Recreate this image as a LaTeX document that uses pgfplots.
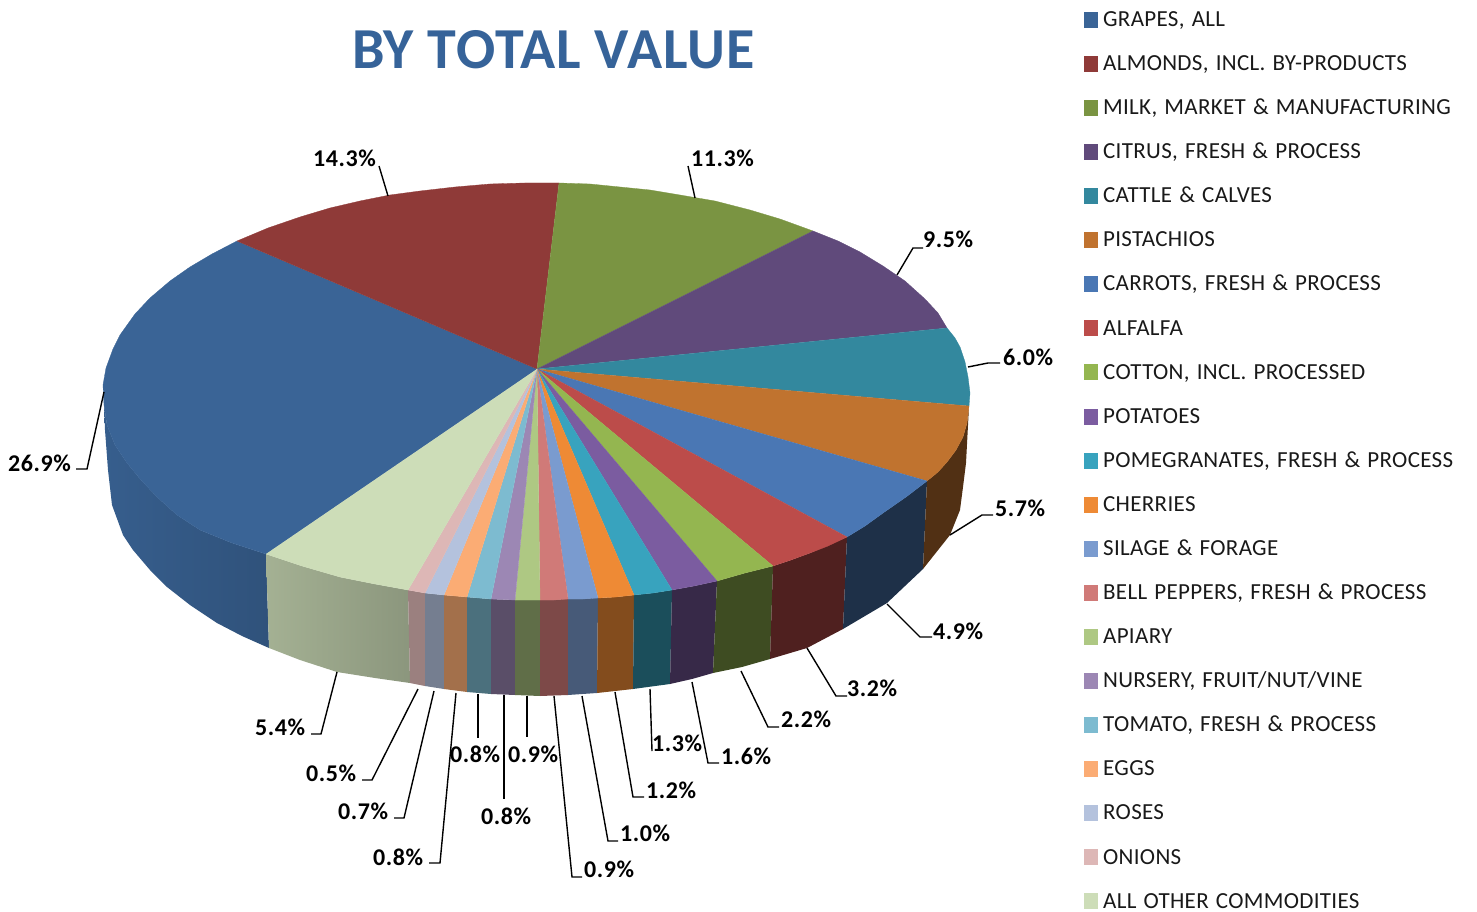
\documentclass[border=0pt]{standalone}
\usepackage{pgfplots}
\pgfplotsset{compat=1.18}
\usepackage{fontspec}
\setmainfont{Carlito}
\newfontface\legfont{Carlito}[LetterSpace=1.4,WordSpace=1.3]
\newfontface\lblfont{Carlito Bold}[LetterSpace=2.4]
\newfontface\ttlfont{Carlito Bold}[LetterSpace=1.7]

% top faces
\definecolor{grapes}{HTML}{3A6496}
\definecolor{almonds}{HTML}{8F3A38}
\definecolor{milk}{HTML}{7A9442}
\definecolor{citrus}{HTML}{604A7B}
\definecolor{cattle}{HTML}{33889E}
\definecolor{pist}{HTML}{C0732F}
\definecolor{carrots}{HTML}{4A77B4}
\definecolor{alfalfa}{HTML}{BC4C4A}
\definecolor{cotton}{HTML}{94B650}
\definecolor{potatoes}{HTML}{7B5CA0}
\definecolor{pom}{HTML}{38A3BE}
\definecolor{cherries}{HTML}{EE8A35}
\definecolor{silage}{HTML}{7A9BCF}
\definecolor{bell}{HTML}{D07A78}
\definecolor{apiary}{HTML}{AEC883}
\definecolor{nursery}{HTML}{9C87B4}
\definecolor{tomato}{HTML}{7DBBD0}
\definecolor{eggs}{HTML}{FBAC74}
\definecolor{roses}{HTML}{B4C2DD}
\definecolor{onions}{HTML}{DDB7B6}
\definecolor{other}{HTML}{CDDDB8}
\definecolor{titleblue}{HTML}{366399}

\tikzset{
  lbl/.style={anchor=base west, inner sep=0pt, yshift=-1bp, font=\fontsize{24bp}{26bp}\lblfont, text=black},
}
\pgfplotsset{
  side/.style={draw=none, forget plot},
  leader/.style={black, line width=1.4bp, forget plot},
  slice/.style={fill=#1, draw=#1, line width=0.3bp},
}

\begin{document}
\begin{tikzpicture}[x=1bp,y=1bp]
\useasboundingbox (0,0) rectangle (1477,911);
\begin{axis}[
  at={(0,0)}, anchor=south west,
  scale only axis,
  width=1477bp, height=911bp,
  xmin=0, xmax=1477, ymin=0, ymax=911,
  y dir=reverse,
  hide axis,
  clip=false,
  legend image code/.code={\fill[#1] (0bp,-6bp) rectangle (13bp,9bp); \path[draw=none,fill=none] (0bp,0bp) rectangle (19bp,0.1bp);},
  legend cell align=left,
  legend style={
    at={(axis cs:1084,10.5)}, anchor=north west,
    draw=none, fill=none, inner sep=0pt, outer sep=0pt,
    font=\fontsize{23bp}{24bp}\legfont,
    text=black!90,
    row sep=23.08bp,
    nodes={inner sep=0pt, outer sep=0pt, text height=16bp, text depth=5bp},
  },
]
% side wall, none of the pieces overlap
\addplot[side, left color=grapes!94!black, right color=grapes!82!black] coordinates {
  (266,554)(232,543)(200,530)(177,515)(157,497)(141,480)(127,463)(115,445)(107,425)(104,405)
  (105,430)(108,470)(112,505)(123,535)(133,550)(150,570)(167,587)(190,605)(217,623)(242,636)(269,648)};
\addplot[side, left color=other!80!black, right color=other!68!black] coordinates {
  (266,554)(302,566)(340,577)(375,584)(408,590)(410,683)(375,678)(337,672)(300,660)(269,648)};
\addplot[side, fill=onions!70!black] coordinates {(408,590)(425,593)(425,686)(410,683)};
\addplot[side, fill=roses!65!black] coordinates {(425,593)(444,595)(444,689)(425,686)};
\addplot[side, fill=eggs!65!black] coordinates {(444,595)(467,597)(467,692)(444,689)};
\addplot[side, fill=tomato!60!black] coordinates {(467,597)(491,599)(491,694)(467,692)};
\addplot[side, fill=nursery!58!black] coordinates {(491,599)(515,600)(515,695)(491,694)};
\addplot[side, fill=apiary!55!black] coordinates {(515,600)(540,600)(540,696)(515,695)};
\addplot[side, fill=bell!60!black] coordinates {(540,600)(568,599)(568,695)(540,696)};
\addplot[side, fill=silage!58!black] coordinates {(568,599)(598,598)(597,693)(568,695)};
\addplot[side, fill=cherries!55!black] coordinates {(598,598)(616,597)(634,595)(633,689)(597,693)};
\addplot[side, fill=pom!48!black] coordinates {(634,595)(653,593)(672,590)(670,684)(633,689)};
\addplot[side, fill=potatoes!45!black] coordinates {(672,590)(694,586)(717,581)(713,673)(692,679)(670,684)};
\addplot[side, fill=cotton!42!black] coordinates {(717,581)(745,573)(773,566)(770,659)(742,667)(713,673)};
\addplot[side, fill=alfalfa!42!black] coordinates {(773,566)(791,560)(810,553)(847,537)(843,629)(807,648)(770,659)};
\addplot[side, fill=carrots!40!black] coordinates {(847,537)(865,526)(883,513)(906,497)(927,481)(923,569)(887,603)(843,629)};
\addplot[side, fill=pist!42!black] coordinates {(927,481)(938,472)(947,462)(956,450)(963,437)(967,423)(969,406)(966,463)(963,487)(960,510)(950,535)(923,569)};

% top face, pixel positions of each slice round the rim
\addplot[slice=grapes] coordinates {(537,369)(266,554)(232,543)(200,530)(177,515)(157,497)(141,480)(127,463)(115,445)(107,425)(104,405)(103,385)(106,368)(113,349)(120,335)(135,314)(150,298)(170,281)(190,267)(212,254)(237,241)};
\addlegendentry{GRAPES, ALL}
\addplot[slice=almonds] coordinates {(537,369)(237,241)(268,228)(300,217)(330,208)(360,201)(390,195)(420,191)(455,187)(490,184)(525,183)(559,183)};
\addlegendentry{ALMONDS, INCL. BY-PRODUCTS}
\addplot[slice=milk] coordinates {(537,369)(559,183)(590,184)(620,187)(650,190)(680,195)(715,201)(750,210)(780,219)(813,231)};
\addlegendentry{MILK, MARKET \& MANUFACTURING}
\addplot[slice=citrus] coordinates {(537,369)(813,231)(838,241)(860,252)(883,266)(905,281)(925,299)(938,313)(947,328)};
\addlegendentry{CITRUS, FRESH \& PROCESS}
\addplot[slice=cattle] coordinates {(537,369)(947,328)(955,338)(960,347)(965,362)(968,377)(970,393)(969,406)};
\addlegendentry{CATTLE \& CALVES}
\addplot[slice=pist] coordinates {(537,369)(969,406)(967,423)(963,437)(956,450)(947,462)(938,472)(927,481)};
\addlegendentry{PISTACHIOS}
\addplot[slice=carrots] coordinates {(537,369)(927,481)(906,497)(883,513)(865,526)(847,537)};
\addlegendentry{CARROTS, FRESH \& PROCESS}
\addplot[slice=alfalfa] coordinates {(537,369)(847,537)(828,546)(810,553)(791,560)(773,566)};
\addlegendentry{ALFALFA}
\addplot[slice=cotton] coordinates {(537,369)(773,566)(745,573)(717,581)};
\addlegendentry{COTTON, INCL. PROCESSED}
\addplot[slice=potatoes] coordinates {(537,369)(717,581)(694,586)(672,590)};
\addlegendentry{POTATOES}
\addplot[slice=pom] coordinates {(537,369)(672,590)(653,593)(634,595)};
\addlegendentry{POMEGRANATES, FRESH \& PROCESS}
\addplot[slice=cherries] coordinates {(537,369)(634,595)(616,597)(598,598)};
\addlegendentry{CHERRIES}
\addplot[slice=silage] coordinates {(537,369)(598,598)(583,599)(568,599)};
\addlegendentry{SILAGE \& FORAGE}
\addplot[slice=bell] coordinates {(537,369)(568,599)(554,600)(540,600)};
\addlegendentry{BELL PEPPERS, FRESH \& PROCESS}
\addplot[slice=apiary] coordinates {(537,369)(540,600)(515,600)};
\addlegendentry{APIARY}
\addplot[slice=nursery] coordinates {(537,369)(515,600)(491,599)};
\addlegendentry{NURSERY, FRUIT/NUT/VINE}
\addplot[slice=tomato] coordinates {(537,369)(491,599)(467,597)};
\addlegendentry{TOMATO, FRESH \& PROCESS}
\addplot[slice=eggs] coordinates {(537,369)(467,597)(444,595)};
\addlegendentry{EGGS}
\addplot[slice=roses] coordinates {(537,369)(444,595)(425,593)};
\addlegendentry{ROSES}
\addplot[slice=onions] coordinates {(537,369)(425,593)(408,590)};
\addlegendentry{ONIONS}
\addplot[slice=other] coordinates {(537,369)(408,590)(375,584)(340,577)(302,566)(266,554)};
\addlegendentry{ALL OTHER COMMODITIES}

% leader lines
\addplot[leader] coordinates {(104,392)(87,469)(76,469)};
\addplot[leader] coordinates {(388,196)(379,166)};
\addplot[leader] coordinates {(695,198)(688,166)};
\addplot[leader] coordinates {(897,275)(913,248)(923,248)};
\addplot[leader] coordinates {(968,367)(988,363)(1000,363)};
\addplot[leader] coordinates {(950,535)(982,515)(993,515)};
\addplot[leader] coordinates {(887,604)(920,637)(932,637)};
\addplot[leader] coordinates {(807,648)(836,696)(847,696)};
\addplot[leader] coordinates {(741,671)(768,727)(779,727)};
\addplot[leader] coordinates {(692,682)(708,763)(719,763)};
\addplot[leader] coordinates {(650,689)(652,751)};
\addplot[leader] coordinates {(615,692)(633,797)(644,797)};
\addplot[leader] coordinates {(582,696)(608,841)(618,841)};
\addplot[leader] coordinates {(554,696)(572,877)(582,877)};
\addplot[leader] coordinates {(527,696)(527,737)};
\addplot[leader] coordinates {(504,695)(504,799)};
\addplot[leader] coordinates {(478,694)(478,738)};
\addplot[leader] coordinates {(456,693)(440,863)(429,863)};
\addplot[leader] coordinates {(434,691)(404,818)(394,818)};
\addplot[leader] coordinates {(418,689)(372,780)(362,780)};
\addplot[leader] coordinates {(337,672)(321,734)(311,734)};

\node[lbl] at (axis cs:8,470) {26.9\%};
\node[lbl] at (axis cs:313,166) {14.3\%};
\node[lbl] at (axis cs:691,166) {11.3\%};
\node[lbl] at (axis cs:923,247) {9.5\%};
\node[lbl] at (axis cs:1003,365) {6.0\%};
\node[lbl] at (axis cs:995,515) {5.7\%};
\node[lbl] at (axis cs:933,638) {4.9\%};
\node[lbl] at (axis cs:847,695) {3.2\%};
\node[lbl] at (axis cs:781,726) {2.2\%};
\node[lbl] at (axis cs:721,763) {1.6\%};
\node[lbl] at (axis cs:652,750) {1.3\%};
\node[lbl] at (axis cs:646,797) {1.2\%};
\node[lbl] at (axis cs:620,840) {1.0\%};
\node[lbl] at (axis cs:584,876) {0.9\%};
\node[lbl] at (axis cs:508,761) {0.9\%};
\node[lbl] at (axis cs:481,823) {0.8\%};
\node[lbl] at (axis cs:450,761) {0.8\%};
\node[lbl] at (axis cs:373,864) {0.8\%};
\node[lbl] at (axis cs:338,818) {0.7\%};
\node[lbl] at (axis cs:306,780) {0.5\%};
\node[lbl] at (axis cs:255,734) {5.4\%};

\node[anchor=base west, inner sep=0pt, yshift=-1.5bp, text=titleblue, font=\fontsize{58bp}{60bp}\ttlfont] at (axis cs:352,67) {BY TOTAL VALUE};
\end{axis}
\end{tikzpicture}
\end{document}
